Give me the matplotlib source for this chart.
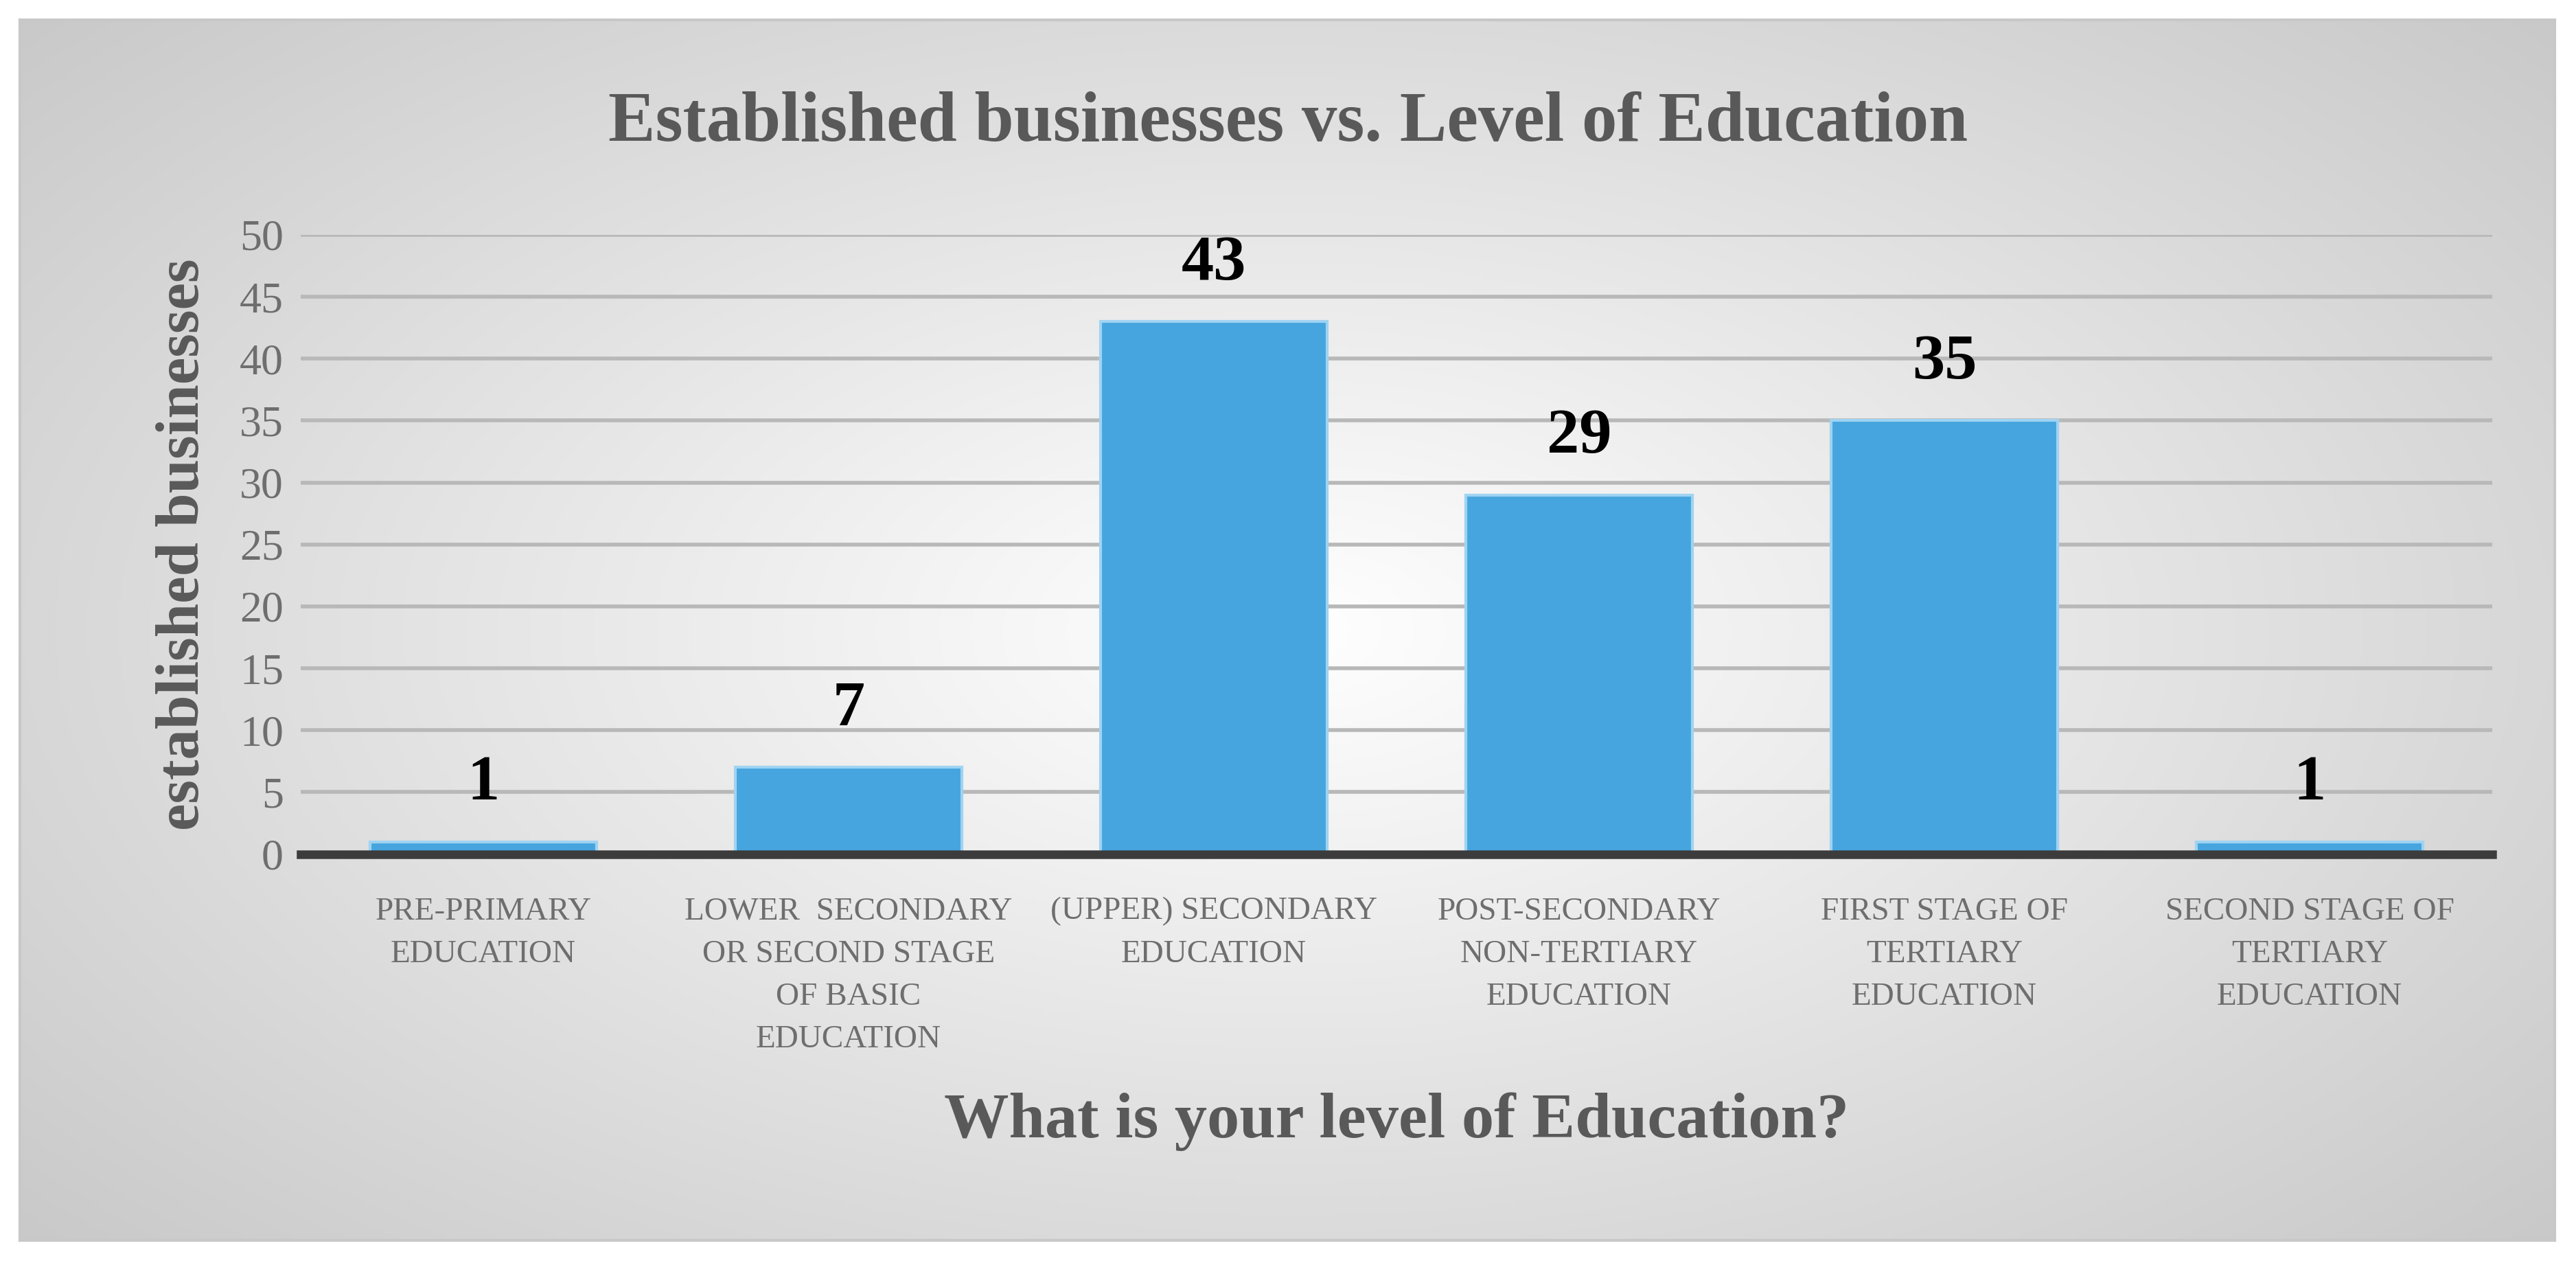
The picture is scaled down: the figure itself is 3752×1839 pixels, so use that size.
import numpy as np
import matplotlib.pyplot as plt

categories = ["PRE-PRIMARY\nEDUCATION",
              "LOWER  SECONDARY\nOR SECOND STAGE\nOF BASIC\nEDUCATION",
              "(UPPER) SECONDARY\nEDUCATION",
              "POST-SECONDARY\nNON-TERTIARY\nEDUCATION",
              "FIRST STAGE OF\nTERTIARY\nEDUCATION",
              "SECOND STAGE OF\nTERTIARY\nEDUCATION"]
values = [1, 7, 43, 29, 35, 1]
yticks = [0, 5, 10, 15, 20, 25, 30, 35, 40, 45, 50]

plt.rcParams['font.family'] = ['Liberation Serif', 'DejaVu Serif']
fig = plt.figure(figsize=(37.52, 18.39), dpi=100)
fig.patch.set_facecolor('white')

# radial gradient background inside a border box
bg = fig.add_axes([12/1568, 1-755/769, 1543/1568, 743/769])
yy, xx = np.mgrid[-1:1:400j, -1:1:800j]
r = np.sqrt((xx / 1.0) ** 2 + (yy / 1.1) ** 2)
g = 1.0 - 0.22 * np.clip(r, 0, 1.4) / 1.4
bg.imshow(np.dstack([g, g, g]), aspect='auto', extent=[0, 1, 0, 1])
bg.set_xticks([]); bg.set_yticks([])
for s in bg.spines.values():
    s.set_color('#C8C8C8'); s.set_linewidth(3)

ax = fig.add_axes([183/1568, 1-520/769, (1517-183)/1568, (520-143)/769])
ax.patch.set_alpha(0)
x = np.arange(len(values))
ax.bar(x, values, width=0.62, color='#46A5DE', edgecolor='#9FD3F2', linewidth=3, zorder=3)
for xi, v in zip(x, values):
    ax.text(xi, v + 2.3, str(v), ha='center', va='bottom', fontsize=68,
            fontweight='bold', color='black')
ax.set_ylim(0, 50)
ax.set_xlim(-0.5, len(values) - 0.5)
ax.set_yticks(yticks)
ax.set_yticklabels([str(t) for t in yticks], fontsize=46, color='#6E6E6E')
ax.set_xticks(x)
ax.set_xticklabels(categories, fontsize=34, color='#6E6E6E', linespacing=1.6, va='top')
ax.tick_params(length=0, axis='both')
ax.tick_params(axis='x', pad=45)
ax.tick_params(axis='y', pad=18)
ax.grid(axis='y', color='#B8B8B8', linewidth=4, zorder=0)
for s in ['top', 'right', 'left']:
    ax.spines[s].set_visible(False)
ax.spines['bottom'].set_color('#3C3C3C')
ax.spines['bottom'].set_linewidth(9)
ax.spines['bottom'].set_zorder(4)
ax.set_ylabel("established businesses", fontsize=64, fontweight='bold',
              color='#595959', labelpad=30)
ax.set_xlabel("What is your level of Education?", fontsize=68, fontweight='bold',
              color='#595959', labelpad=40)
fig.text(0.5, 1-75/769, "Established businesses vs. Level of Education",
         ha='center', va='center', fontsize=74, fontweight='bold', color='#595959')

fig.savefig('out.png', dpi=100)
